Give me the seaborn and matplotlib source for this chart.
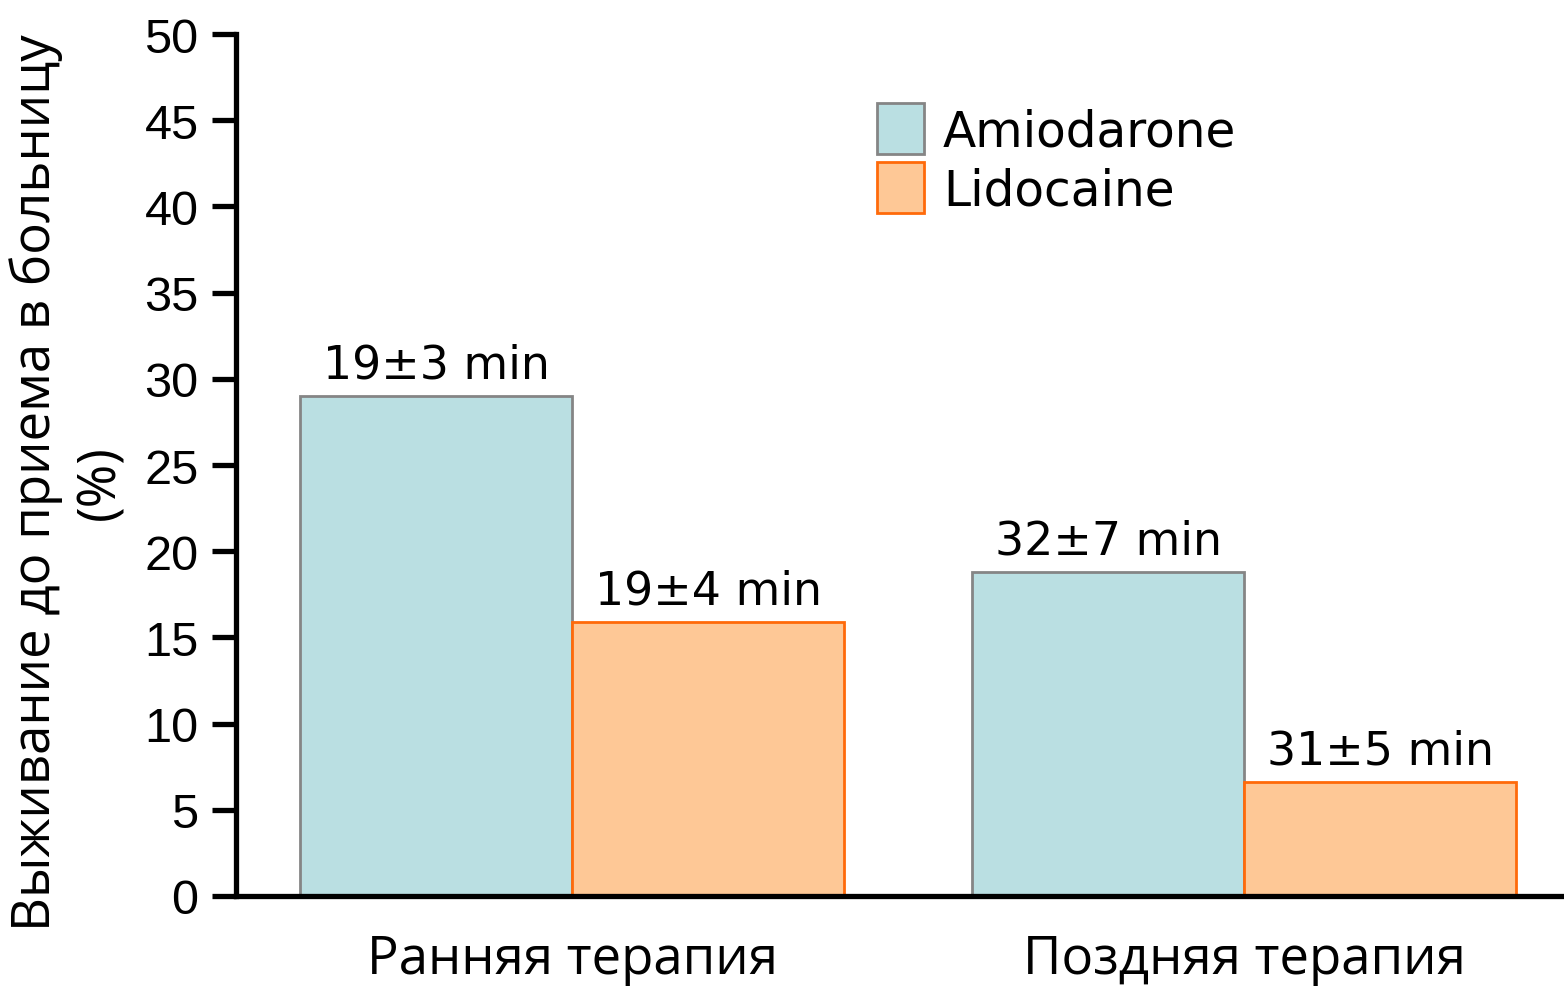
import pandas as pd
import seaborn as sns
import matplotlib.pyplot as plt
import matplotlib.patches as mpatches
from matplotlib.legend_handler import HandlerPatch

# data
groups = ['Ранняя терапия', 'Поздняя терапия']
drugs = ['Amiodarone', 'Lidocaine']
amiodarone = [29.0, 18.8]
lidocaine = [15.9, 6.6]
amio_labels = ['19±3 min', '32±7 min']
lido_labels = ['19±4 min', '31±5 min']

df = pd.DataFrame({
    'group': groups * 2,
    'drug': [drugs[0]] * 2 + [drugs[1]] * 2,
    'value': amiodarone + lidocaine,
})

face = {'Amiodarone': '#BADFE2', 'Lidocaine': '#FEC896'}
edge = {'Amiodarone': '#858585', 'Lidocaine': '#FF6A0A'}

sns.set_style('white')
plt.rcParams['font.family'] = ['Liberation Sans', 'DejaVu Sans']
plt.rcParams['text.color'] = 'black'
plt.rcParams['axes.labelcolor'] = 'black'
plt.rcParams['xtick.color'] = 'black'
plt.rcParams['ytick.color'] = 'black'

fig = plt.figure(figsize=(15.64, 9.87), dpi=100)
ax = fig.add_axes([0.1509, 0.0912, 0.8491, 0.8733])

sns.barplot(data=df, x='group', y='value', hue='drug', hue_order=drugs,
            palette=face, width=0.81, saturation=1, ax=ax, legend=True)

# per-series edge colours and value annotations
texts = [amio_labels, lido_labels]
for cont, drug, labs in zip(ax.containers, drugs, texts):
    for bar in cont:
        bar.set_edgecolor(edge[drug])
        bar.set_linewidth(2)
    ax.bar_label(cont, labels=labs, padding=6, fontsize=33,
                 family='DejaVu Sans', color='black')

ax.set_ylim(0, 50)
ax.set_xlim(-0.5, 1.476)
ax.set_yticks(range(0, 51, 5))

for s in ['top', 'right']:
    ax.spines[s].set_visible(False)
for s in ['left', 'bottom']:
    ax.spines[s].set_linewidth(3.8)
    ax.spines[s].set_color('black')

ax.tick_params(axis='y', direction='out', length=17, width=3.8, pad=10,
               labelsize=35, left=True)
ax.tick_params(axis='x', length=0, pad=26, labelsize=38)
for t in ax.get_xticklabels():
    t.set_family('Open Sans')

ax.set_xlabel('')
ax.set_ylabel('Выживание до приема в больницу\n(%)', fontsize=38,
              family='Open Sans', linespacing=1.25)
ax.yaxis.set_label_coords(-0.082, 0.481)


def tall_patch(legend, orig_handle, xdescent, ydescent, width, height, fontsize):
    return mpatches.Rectangle((-xdescent, -ydescent - 0.25 * height),
                              width, height * 1.5)


handles, labels = ax.get_legend_handles_labels()
for h, d in zip(handles, drugs):
    h.set_edgecolor(edge[d])
    h.set_linewidth(2)
ax.legend(handles, labels, loc='upper left', bbox_to_anchor=(0.45, 0.965),
          frameon=False, handlelength=0.95,
          handletextpad=0.4, labelspacing=0.22,
          handler_map={mpatches.Rectangle: HandlerPatch(patch_func=tall_patch)},
          prop={'family': 'DejaVu Sans', 'size': 35})

fig.savefig('out.png', dpi=100)
